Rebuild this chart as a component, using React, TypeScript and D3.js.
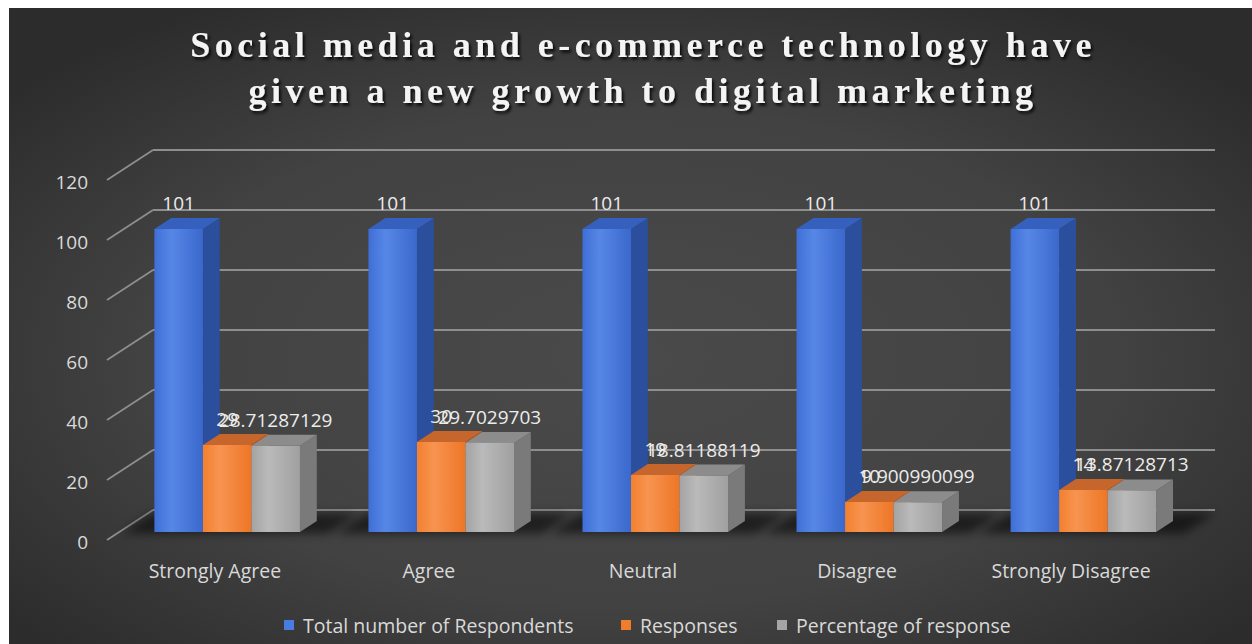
import React, { useLayoutEffect } from 'react';
import * as d3 from 'd3';

const categories = ['Strongly Agree', 'Agree', 'Neutral', 'Disagree', 'Strongly Disagree'];
const seriesNames = ['Total number of Respondents', 'Responses', 'Percentage of response'];
const totalRespondents = [101, 101, 101, 101, 101];
const responses = [29, 30, 19, 10, 14];
const percentages = [28.71287129, 29.7029703, 18.81188119, 9.900990099, 13.87128713];
const percentageLabels = ['28.71287129', '29.7029703', '18.81188119', '9.900990099', '13.87128713'];
const yTicks = [0, 20, 40, 60, 80, 100, 120];
const titleLines = ['Social media and e-commerce technology have', 'given a new growth to digital marketing'];

const W = 1252;
const H = 644;
const FONT = '"Open Sans", "Noto Sans", sans-serif';

const seriesStyle = [
  { front: ['#3f6fd6', '#5687e6', '#3a68cc'], top: '#3560bd', side: '#2b4f9d', legend: '#4a7be0' },
  { front: ['#f3802e', '#f79450', '#ee7626'], top: '#c6652c', side: '#b45a22', legend: '#f07d2c' },
  { front: ['#a3a3a3', '#bababa', '#a0a0a0'], top: '#8c8c8c', side: '#7a7a7a', legend: '#a5a5a5' },
];

export default function App() {
  useLayoutEffect(() => {
    document.body.style.margin = '0';
    document.documentElement.style.overflow = 'hidden';
  }, []);

  // oblique 3D projection
  const DEPTH_DX = 46;
  const DEPTH_DY = -30;
  const T0 = 0.267;
  const T1 = 0.633;
  const y = d3.scaleLinear().domain([0, 120]).range([540, 180]);
  const xWall = d3.scaleLinear().domain([0, 1]).range([107, 1169]);
  const x = d3.scaleBand<string>().domain(categories).range([110, 1176]).paddingInner(0.32).paddingOuter(0.15);
  const xs = d3.scaleBand<string>().domain(seriesNames).range([0, x.bandwidth()]);
  const proj = (px: number, v: number, t: number): [number, number] => [px + DEPTH_DX * t, y(v) + DEPTH_DY * t];
  const pts = (arr: [number, number][]) => arr.map((p) => p.join(',')).join(' ');

  const seriesValues = [totalRespondents, responses, percentages];
  const seriesLabels = [totalRespondents.map(String), responses.map(String), percentageLabels];

  const wallLeft = xWall(0);
  const wallRight = xWall(1);

  return (
    <svg width={W} height={H} style={{ display: 'block' }} xmlns="http://www.w3.org/2000/svg">
      <defs>
        <radialGradient id="bg" cx="50%" cy="55%" r="65%">
          <stop offset="0%" stopColor="#4a4a4a" />
          <stop offset="60%" stopColor="#424242" />
          <stop offset="100%" stopColor="#2c2c2c" />
        </radialGradient>
        {seriesStyle.map((s, i) => (
          <linearGradient key={i} id={`front${i}`} x1="0" x2="1" y1="0" y2="0">
            <stop offset="0%" stopColor={s.front[0]} />
            <stop offset="35%" stopColor={s.front[1]} />
            <stop offset="100%" stopColor={s.front[2]} />
          </linearGradient>
        ))}
        <filter id="shadowBlur" x="-50%" y="-50%" width="200%" height="200%">
          <feGaussianBlur stdDeviation="5" />
        </filter>
        <filter id="titleShadow" x="-10%" y="-30%" width="120%" height="160%">
          <feDropShadow dx="2" dy="2.5" stdDeviation="1.5" floodColor="#000" floodOpacity="0.85" />
        </filter>
      </defs>
      <rect x={0} y={0} width={W} height={H} fill="#ffffff" />
      <rect x={9} y={8} width={W - 9} height={H - 8} fill="url(#bg)" />

      {/* back wall gridlines and side wall diagonals */}
      {yTicks.map((t) => {
        const [bx, by] = proj(wallLeft, t, 1);
        const [ex] = proj(wallRight, t, 1);
        const [fx, fy] = proj(wallLeft, t, 0);
        return (
          <g key={t}>
            <line x1={bx} y1={by} x2={ex} y2={by} stroke="#8e8e8e" strokeWidth={1.8} />
            <line x1={fx} y1={fy} x2={bx} y2={by} stroke="#8e8e8e" strokeWidth={1.8} />
            <text x={88} y={fy + 2} textAnchor="end" dominantBaseline="central" fill="#d9d9d9" fontFamily={FONT} fontSize={19}>
              {t}
            </text>
          </g>
        );
      })}

      {/* floor shadows */}
      {categories.map((c) => {
        const gx0 = x(c)!;
        const gx1 = gx0 + x.bandwidth();
        return (
          <polygon
            key={c}
            points={pts([
              proj(gx0 - 30, 0, T0 - 0.05),
              proj(gx1 + 30, 0, T0 - 0.05),
              proj(gx1 + 30, 0, T1 + 0.25),
              proj(gx0 - 30, 0, T1 + 0.25),
            ])}
            fill="#000"
            opacity={0.55}
            filter="url(#shadowBlur)"
          />
        );
      })}

      {/* bars */}
      {categories.map((c, ci) => (
        <g key={c}>
          {seriesNames.map((s, si) => {
            const v = seriesValues[si][ci];
            const x0 = x(c)! + xs(s)!;
            const x1 = x0 + xs.bandwidth();
            const st = seriesStyle[si];
            const fTL = proj(x0, v, T0);
            const fBR = proj(x1, 0, T0);
            return (
              <g key={s}>
                <polygon points={pts([proj(x1, 0, T0), proj(x1, v, T0), proj(x1, v, T1), proj(x1, 0, T1)])} fill={st.side} />
                <polygon points={pts([proj(x0, v, T0), proj(x1, v, T0), proj(x1, v, T1), proj(x0, v, T1)])} fill={st.top} />
                <rect x={fTL[0]} y={fTL[1]} width={fBR[0] - fTL[0]} height={fBR[1] - fTL[1]} fill={`url(#front${si})`} />
              </g>
            );
          })}
        </g>
      ))}

      {/* data labels */}
      {categories.map((c, ci) => (
        <g key={c}>
          {seriesNames.map((s, si) => {
            const v = seriesValues[si][ci];
            const x0 = x(c)! + xs(s)!;
            const [cx] = proj(x0 + xs.bandwidth() / 2, v, T0);
            const [, ty] = proj(x0, v, T1);
            return (
              <text key={s} x={cx} y={ty - 8} textAnchor="middle" fill="#ececec" fontFamily={FONT} fontSize={19}>
                {seriesLabels[si][ci]}
              </text>
            );
          })}
        </g>
      ))}

      {/* category labels */}
      {categories.map((c) => (
        <text key={c} x={x(c)! + x.bandwidth() / 2} y={570} textAnchor="middle" dominantBaseline="central" fill="#d9d9d9" fontFamily={FONT} fontSize={19.5}>
          {c}
        </text>
      ))}

      {/* title */}
      {titleLines.map((line, i) => (
        <text
          key={i}
          x={643}
          y={57 + i * 46}
          textAnchor="middle"
          fill="#f4f4f4"
          fontFamily='"Liberation Serif", "Times New Roman", serif'
          fontWeight="bold"
          fontSize={36}
          letterSpacing={4.5}
          filter="url(#titleShadow)"
        >
          {line}
        </text>
      ))}

      {/* legend */}
      {seriesNames.map((s, i) => {
        const lx = [284, 621, 777][i];
        return (
          <g key={s}>
            <rect x={lx} y={620} width={10} height={10} fill={seriesStyle[i].legend} />
            <text x={lx + 19} y={625} dominantBaseline="central" fill="#d9d9d9" fontFamily={FONT} fontSize={19.5}>
              {s}
            </text>
          </g>
        );
      })}
    </svg>
  );
}
